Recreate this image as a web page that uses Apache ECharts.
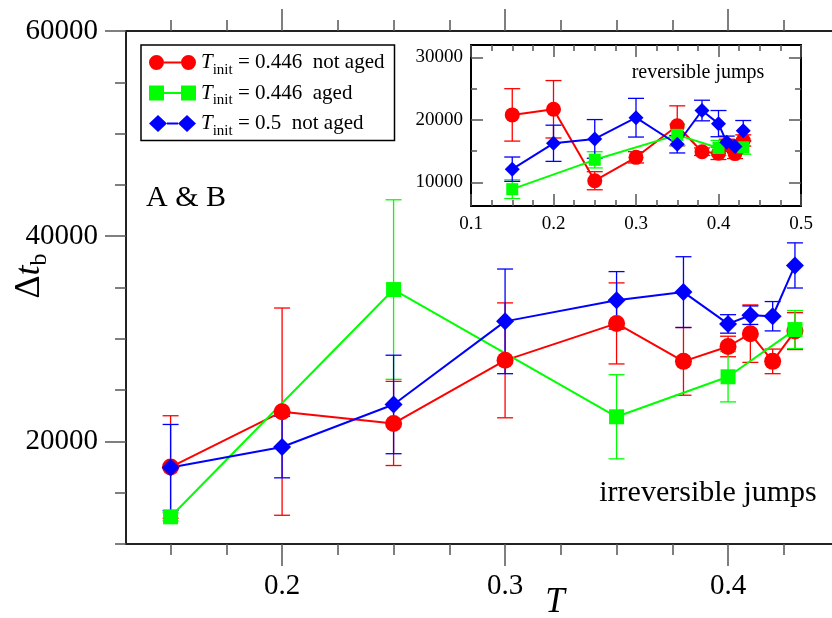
<!DOCTYPE html>
<html>
<head>
<meta charset="utf-8">
<script src="https://cdn.jsdelivr.net/npm/echarts@6/dist/echarts.min.js"></script>
<style>
  html, body { margin: 0; padding: 0; background: #fff; }
  #chart { width: 832px; height: 618px; }
</style>
</head>
<body>
<div id="chart"></div>
<script>
// main panel: irreversible jumps
const mainTRed = [0.15, 0.2, 0.25, 0.3, 0.35, 0.38, 0.4, 0.41, 0.42, 0.43]
const mainRed = [17500, 22900, 21750, 27900, 31500, 27800, 29250, 30500, 27800, 30750]
const mainRedErr = [5000, 10100, 4100, 5600, 3950, 3300, 1000, 2800, 1200, 1800]

const mainTGreen = [0.15, 0.25, 0.35, 0.4, 0.43]
const mainGreen = [12650, 34800, 22400, 26300, 30900]
const mainGreenErr = [400, 8750, 4100, 2450, 1850]

const mainTBlue = [0.15, 0.2, 0.25, 0.3, 0.35, 0.38, 0.4, 0.41, 0.42, 0.43]
const mainBlue = [17450, 19450, 23600, 31700, 33750, 34550, 31450, 32300, 32200, 37150]
const mainBlueErr = [4200, 3000, 4800, 5100, 2800, 3450, 900, 900, 1430, 2200]

// inset: reversible jumps
const insetTRed = [0.15, 0.2, 0.25, 0.3, 0.35, 0.38, 0.4, 0.41, 0.42, 0.43]
const insetRed = [20800, 21700, 10250, 14000, 19050, 14900, 14650, 16000, 14600, 16700]
const insetRedErr = [4200, 4600, 1450, 900, 3200, 600, 1000, 900, 800, 900]

const insetTGreen = [0.15, 0.25, 0.35, 0.4, 0.43]
const insetGreen = [8900, 13600, 17600, 15500, 15600]
const insetGreenErr = [1500, 1300, 1700, 1200, 1100]

const insetTBlue = [0.15, 0.2, 0.25, 0.3, 0.35, 0.38, 0.4, 0.41, 0.42, 0.43]
const insetBlue = [12100, 16250, 16950, 20350, 16100, 21500, 19400, 16400, 15750, 18250]
const insetBlueErr = [1950, 2900, 3100, 3100, 1400, 1650, 2100, 1000, 1000, 1650]

// ticks
const mainXMajor = [0.2, 0.3, 0.4]
const mainXMinor = [0.15, 0.175, 0.225, 0.25, 0.275, 0.325, 0.35, 0.375, 0.425]
const mainYMajor = [20000, 40000, 60000]
const mainYMinor = [10000, 15000, 25000, 30000, 35000, 45000, 50000, 55000]
const insetYMajor = [10000, 20000, 30000]
const insetYMinor = [15000, 25000]

const names = ['T_init = 0.446  not aged', 'T_init = 0.446  aged', 'T_init = 0.5  not aged']
const legendText = {
  'T_init = 0.446  not aged': '{i|T}{s|init}{n| = 0.446  not aged}',
  'T_init = 0.446  aged': '{i|T}{s|init}{n| = 0.446  aged}',
  'T_init = 0.5  not aged': '{i|T}{s|init}{n| = 0.5  not aged}'
}

const FONT = "'Liberation Serif', 'Times New Roman', serif"
const RED = '#ff0000'
const GREEN = '#00ff00'
const BLUE = '#0000ff'
const FRAME = '#222'
const TICK = '#555'

// legend icons: symbol - line - symbol
const ICON_CIRCLE = 'path://M0,8.5A7.5,7.5 0 1,1 15,8.5A7.5,7.5 0 1,1 0,8.5Z M32,8.5A7.5,7.5 0 1,1 47,8.5A7.5,7.5 0 1,1 32,8.5Z M15,7.5L32,7.5L32,9.5L15,9.5Z'
const ICON_SQUARE = 'path://M0,1L15,1L15,16L0,16Z M32,1L47,1L47,16L32,16Z M15,7.5L32,7.5L32,9.5L15,9.5Z'
const ICON_DIAMOND = 'path://M0,8.5L9,0L18,8.5L9,17Z M29,8.5L38,0L47,8.5L38,17Z M18,7.5L29,7.5L29,9.5L18,9.5Z'

function tickAxis(grid, pos, min, max, ticks, len, inside, showLine) {
  return {
    type: 'value', gridIndex: grid, position: pos, min: min, max: max,
    axisLine: { show: showLine, lineStyle: { color: FRAME, width: 2 } },
    axisTick: { show: true, inside: inside, length: len, customValues: ticks, lineStyle: { color: TICK, width: 1.5 } },
    axisLabel: { show: false },
    splitLine: { show: false }
  }
}

function lineSeries(name, xs, ys, color, symbol, size, xi, yi) {
  return {
    name: name, type: 'line', xAxisIndex: xi, yAxisIndex: yi,
    data: xs.map((x, i) => [x, ys[i]]),
    symbol: symbol, symbolSize: size,
    itemStyle: { color: color },
    lineStyle: { color: color, width: 2 },
    z: 3
  }
}

function errorSeries(name, xs, ys, es, color, cap, xi, yi) {
  return {
    name: name, type: 'custom', xAxisIndex: xi, yAxisIndex: yi, silent: true, z: 2,
    data: xs.map((x, i) => [x, ys[i] - es[i], ys[i] + es[i]]),
    encode: { x: 0, y: [1, 2] },
    renderItem: function (params, api) {
      const lo = api.coord([api.value(0), api.value(1)])
      const hi = api.coord([api.value(0), api.value(2)])
      const h = cap / 2
      const style = { stroke: color, lineWidth: 1.3 }
      return {
        type: 'group',
        children: [
          { type: 'line', shape: { x1: lo[0], y1: lo[1], x2: hi[0], y2: hi[1] }, style: style },
          { type: 'line', shape: { x1: lo[0] - h, y1: lo[1], x2: lo[0] + h, y2: lo[1] }, style: style },
          { type: 'line', shape: { x1: hi[0] - h, y1: hi[1], x2: hi[0] + h, y2: hi[1] }, style: style }
        ]
      }
    }
  }
}

const chart = echarts.init(document.getElementById('chart'))

const mainX = tickAxis(0, 'bottom', 0.13, 0.4502, mainXMajor, 22, false, true)
mainX.axisLabel = {
  show: true, customValues: mainXMajor, margin: 28,
  fontFamily: FONT, fontSize: 29, color: '#000',
  formatter: v => v.toFixed(1)
}
const mainY = tickAxis(0, 'left', 10000, 60000, mainYMajor, 21, false, true)
mainY.axisLabel = {
  show: true, customValues: mainYMajor, margin: 28,
  fontFamily: FONT, fontSize: 29, color: '#000',
  formatter: v => String(v)
}

const insetX = {
  type: 'value', gridIndex: 1, position: 'bottom', min: 0.1, max: 0.5, interval: 0.1,
  axisLine: { show: true, lineStyle: { color: '#000', width: 2 } },
  axisTick: { show: true, inside: true, length: 12, lineStyle: { color: TICK, width: 1.5 } },
  minorTick: { show: true, splitNumber: 4, length: 6, lineStyle: { color: TICK, width: 1.5 } },
  axisLabel: { show: true, margin: 9, fontFamily: FONT, fontSize: 19, color: '#000', formatter: v => v.toFixed(1) },
  splitLine: { show: false }
}
const insetXTop = {
  type: 'value', gridIndex: 1, position: 'top', min: 0.1, max: 0.5, interval: 0.1,
  axisLine: { show: true, lineStyle: { color: '#000', width: 2 } },
  axisTick: { show: true, inside: true, length: 12, lineStyle: { color: TICK, width: 1.5 } },
  minorTick: { show: true, splitNumber: 4, length: 6, lineStyle: { color: TICK, width: 1.5 } },
  axisLabel: { show: false },
  splitLine: { show: false }
}
const insetY = tickAxis(1, 'left', 6200, 32000, insetYMajor, 12, true, true)
insetY.axisLine.lineStyle.color = '#000'
insetY.axisLabel = {
  show: true, customValues: insetYMajor, margin: 8,
  fontFamily: FONT, fontSize: 19, color: '#000',
  formatter: v => String(v)
}
const insetYRight = tickAxis(1, 'right', 6200, 32000, insetYMajor, 12, true, true)
insetYRight.axisLine.lineStyle.color = '#000'

const option = {
  animation: false,
  backgroundColor: '#fff',
  grid: [
    { left: 126, top: 31, right: -8, bottom: 74, outerBoundsMode: 'none' },
    { left: 471, top: 45, right: 31, bottom: 412, outerBoundsMode: 'none', show: true, backgroundColor: '#fff', borderWidth: 0 }
  ],
  xAxis: [
    mainX,
    tickAxis(0, 'bottom', 0.13, 0.4502, mainXMinor, 11, false, false),
    tickAxis(0, 'top', 0.13, 0.4502, mainXMajor, 22, false, true),
    tickAxis(0, 'top', 0.13, 0.4502, mainXMinor, 11, false, false),
    insetX,
    insetXTop
  ],
  yAxis: [
    mainY,
    tickAxis(0, 'left', 10000, 60000, mainYMinor, 11, false, false),
    insetY,
    tickAxis(1, 'left', 6200, 32000, insetYMinor, 6, true, false),
    insetYRight,
    tickAxis(1, 'right', 6200, 32000, insetYMinor, 6, true, false)
  ],
  legend: {
    data: [
      { name: names[0], icon: ICON_CIRCLE },
      { name: names[1], icon: ICON_SQUARE },
      { name: names[2], icon: ICON_DIAMOND }
    ],
    orient: 'vertical', left: 141, top: 45,
    padding: [7, 10, 2, 8], itemWidth: 47, itemHeight: 17, itemGap: 5,
    backgroundColor: '#fff', borderColor: '#000', borderWidth: 1.5,
    formatter: n => legendText[n],
    textStyle: {
      fontFamily: FONT, fontSize: 21, color: '#000',
      rich: {
        i: { fontFamily: FONT, fontStyle: 'italic', fontSize: 21, lineHeight: 30 },
        s: { fontFamily: FONT, fontSize: 15, lineHeight: 15, verticalAlign: 'bottom' },
        n: { fontFamily: FONT, fontSize: 21, lineHeight: 30 }
      }
    }
  },
  graphic: [
    { type: 'text', x: 186, y: 198, style: { text: 'A & B', font: '30px ' + FONT, fill: '#000', align: 'center', verticalAlign: 'middle' } },
    { type: 'text', x: 708, y: 493, style: { text: 'irreversible jumps', font: '30px ' + FONT, fill: '#000', align: 'center', verticalAlign: 'middle' } },
    { type: 'text', x: 698, y: 73, z: 100, style: { text: 'reversible jumps', font: '20px ' + FONT, fill: '#000', align: 'center', verticalAlign: 'middle' } },
    { type: 'text', x: 555, y: 603, style: { text: 'T', font: 'italic 35px ' + FONT, fill: '#000', align: 'center', verticalAlign: 'middle' } },
    {
      type: 'text', x: 30, y: 276, rotation: Math.PI / 2,
      style: {
        text: '{d|Δ}{t|t}{b|b}', align: 'center', verticalAlign: 'middle', fill: '#000',
        rich: {
          d: { fontFamily: FONT, fontSize: 36, lineHeight: 44 },
          t: { fontFamily: FONT, fontStyle: 'italic', fontSize: 36, lineHeight: 44 },
          b: { fontFamily: FONT, fontSize: 24, lineHeight: 24, verticalAlign: 'bottom' }
        }
      }
    }
  ],
  series: [
    errorSeries('err red', mainTRed, mainRed, mainRedErr, RED, 16, 0, 0),
    lineSeries(names[0], mainTRed, mainRed, RED, 'circle', 17, 0, 0),
    errorSeries('err green', mainTGreen, mainGreen, mainGreenErr, GREEN, 16, 0, 0),
    lineSeries(names[1], mainTGreen, mainGreen, GREEN, 'rect', 15, 0, 0),
    errorSeries('err blue', mainTBlue, mainBlue, mainBlueErr, BLUE, 16, 0, 0),
    lineSeries(names[2], mainTBlue, mainBlue, BLUE, 'diamond', 18, 0, 0),

    errorSeries('inset err red', insetTRed, insetRed, insetRedErr, RED, 16, 4, 2),
    lineSeries('inset red', insetTRed, insetRed, RED, 'circle', 15, 4, 2),
    errorSeries('inset err green', insetTGreen, insetGreen, insetGreenErr, GREEN, 16, 4, 2),
    lineSeries('inset green', insetTGreen, insetGreen, GREEN, 'rect', 12, 4, 2),
    errorSeries('inset err blue', insetTBlue, insetBlue, insetBlueErr, BLUE, 16, 4, 2),
    lineSeries('inset blue', insetTBlue, insetBlue, BLUE, 'diamond', 15, 4, 2)
  ]
}

chart.setOption(option)
</script>
</body>
</html>
